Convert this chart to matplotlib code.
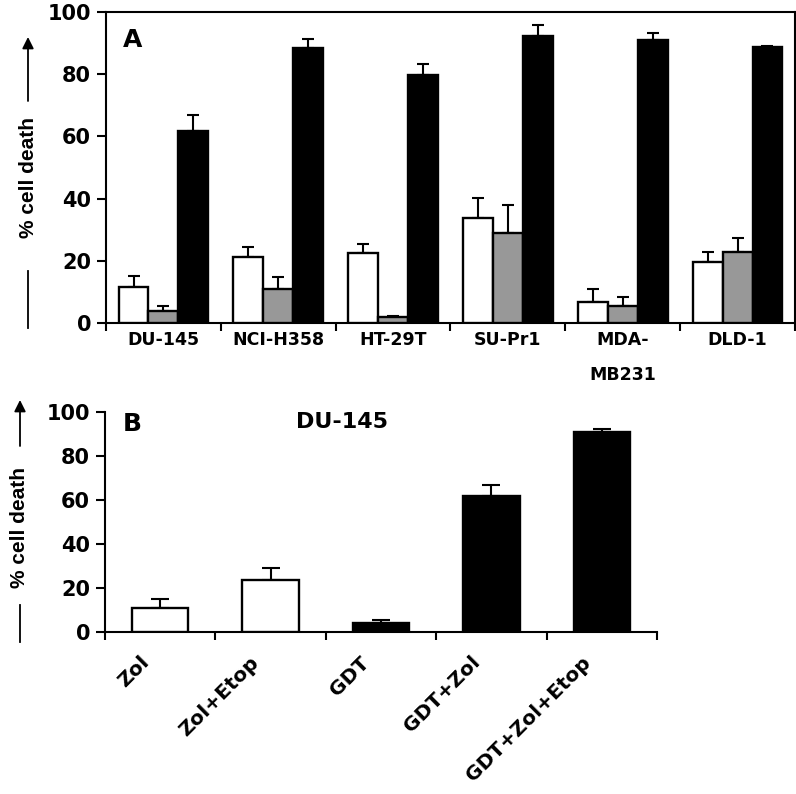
import matplotlib.pyplot as plt
from matplotlib.patches import FancyArrowPatch
import numpy as np

plt.rcParams['font.family'] = ['DejaVu Sans']
plt.rcParams['font.weight'] = 'bold'

# panel A data
cell_lines = ['DU-145', 'NCI-H358', 'HT-29T', 'SU-Pr1', 'MDA-\nMB231', 'DLD-1']
white_vals = [11.6, 21.2, 22.5, 33.9, 6.6, 19.6]
white_err = [3.6, 3.2, 3.0, 6.3, 4.3, 3.3]
gray_vals = [4.0, 11.0, 1.8, 28.8, 5.6, 22.8]
gray_err = [1.6, 3.8, 0.6, 9.1, 2.7, 4.4]
black_vals = [61.6, 88.3, 79.6, 92.3, 91.0, 88.8]
black_err = [5.3, 3.0, 3.7, 3.5, 2.4, 0.3]

# panel B data
treatments = ['Zol', 'Zol+Etop', 'GDT', 'GDT+Zol', 'GDT+Zol+Etop']
b_vals = [10.9, 23.8, 4.3, 61.8, 90.7]
b_err = [4.3, 5.2, 1.3, 4.8, 1.7]
b_colors = ['white', 'white', 'black', 'black', 'black']

W, H = 796.0, 794.0
fig = plt.figure(figsize=(W / 100, H / 100), dpi=100)
axA = fig.add_axes([106 / W, 1 - 323 / H, 689 / W, 311 / H])
axB = fig.add_axes([105 / W, 1 - 632 / H, 552 / W, 220 / H])

lw = 1.7

x = np.arange(len(cell_lines))
w = 0.26
for off, vals, errs, col in [(-w, white_vals, white_err, 'white'),
                             (0, gray_vals, gray_err, '#989898'),
                             (w, black_vals, black_err, 'black')]:
    axA.bar(x + off, vals, w, color=col, edgecolor='black', linewidth=lw, zorder=3)
    axA.errorbar(x + off, vals, yerr=[np.zeros(len(vals)), errs], fmt='none', zorder=2,
                 lw=1.5, capsize=4.5, capthick=1.5, ecolor='black')

axA.set_xlim(-0.5, len(cell_lines) - 0.5)
axA.set_ylim(0, 100)
axA.set_yticks([0, 20, 40, 60, 80, 100])
axA.set_xticks(np.arange(len(cell_lines) + 1) - 0.5)
axA.set_xticklabels([])
axA.tick_params(axis='y', labelsize=15, length=6.7, width=1.5, pad=4)
axA.tick_params(axis='x', length=6, width=1.5)
for i, lab in enumerate(cell_lines):
    axA.text(i, -2.6, lab, ha='center', va='top', fontsize=12.5, fontweight='bold',
             linespacing=2.2)
for s in axA.spines.values():
    s.set_linewidth(1.5)
axA.text(123 / W, 1 - 28 / H, 'A', transform=fig.transFigure, fontsize=18,
         fontweight='bold', ha='left', va='top')

xb = np.arange(len(treatments))
axB.bar(xb, b_vals, 0.51, color=b_colors, edgecolor='black', linewidth=lw, zorder=3)
axB.errorbar(xb, b_vals, yerr=[np.zeros(len(b_vals)), b_err], fmt='none', zorder=2,
             lw=1.5, capsize=6.5, capthick=1.5, ecolor='black')
axB.set_xlim(-0.5, len(treatments) - 0.5)
axB.set_ylim(0, 100)
axB.set_yticks([0, 20, 40, 60, 80, 100])
axB.set_xticks(np.arange(len(treatments) + 1) - 0.5)
axB.set_xticklabels([])
axB.spines['top'].set_visible(False)
axB.spines['right'].set_visible(False)
for s in axB.spines.values():
    s.set_linewidth(1.5)
axB.tick_params(axis='y', labelsize=15, length=6.7, width=1.5, pad=4)
axB.tick_params(axis='x', length=6, width=1.5)
for i, lab in enumerate(treatments):
    axB.text(i - 0.13, -12.5, lab, ha='right', va='center', rotation=45,
             rotation_mode='anchor', fontsize=14.5, fontweight='bold')
axB.text(123 / W, 1 - 412 / H, 'B', transform=fig.transFigure, fontsize=18,
         fontweight='bold', ha='left', va='top')
fig.text(342 / W, 1 - 428 / H, 'DU-145', ha='center', va='baseline', fontsize=16,
         fontweight='bold')


# y labels with arrows
def ylab(xc, y_top, y_arrow_bot, y_text, y_line_top, y_line_bot):
    fig.text(xc / W, 1 - y_text / H, '% cell death', rotation=90, ha='center',
             va='center', fontsize=15, fontweight='bold',
             family=['Liberation Sans', 'DejaVu Sans'])
    fig.add_artist(plt.Line2D([xc / W] * 2, [1 - y_line_top / H, 1 - y_line_bot / H],
                              color='black', lw=1.3))
    fig.add_artist(FancyArrowPatch(
        (xc / W, 1 - y_arrow_bot / H), (xc / W, 1 - y_top / H),
        transform=fig.transFigure, arrowstyle='-|>', mutation_scale=17,
        color='black', lw=1.3, shrinkA=0, shrinkB=0))


ylab(28, 37, 101, 177, 271, 328)
ylab(20, 400, 446, 528, 605, 642)

fig.savefig('out.png', dpi=100)
